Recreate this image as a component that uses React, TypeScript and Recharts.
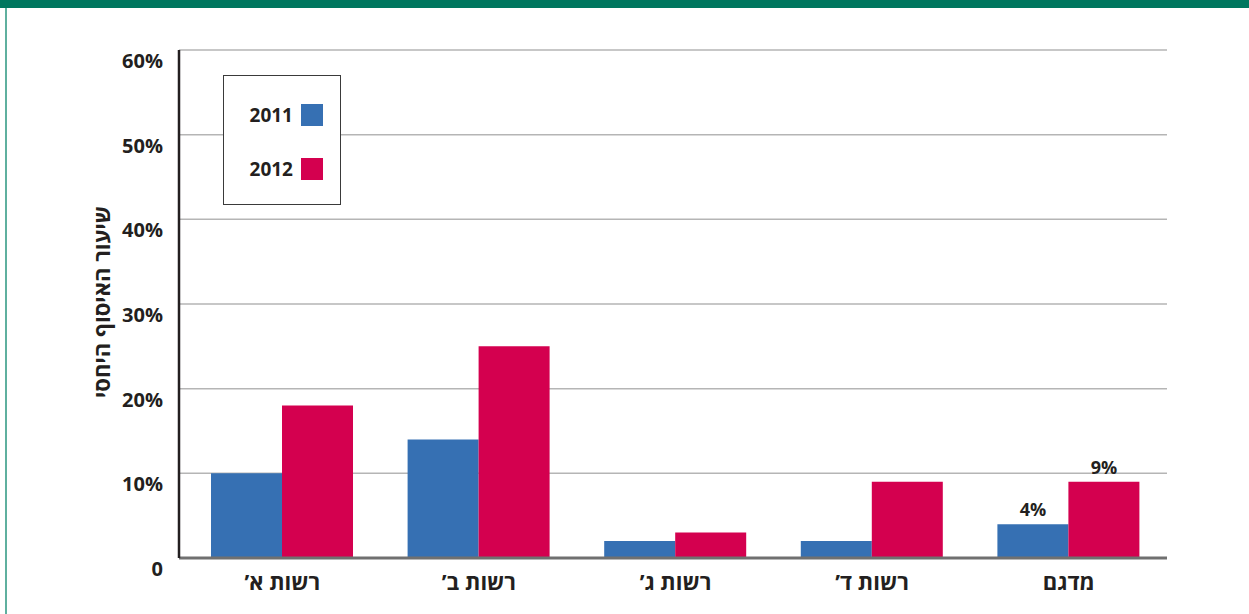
import React from 'react';
import { BarChart, Bar, XAxis, YAxis, CartesianGrid, LabelList } from 'recharts';

const categories = ['רשות א’', 'רשות ב’', 'רשות ג’', 'רשות ד’', 'מדגם'];
const values2011 = [10, 14, 2, 2, 4];
const values2012 = [18, 25, 3, 9, 9];
const yTicks = [0, 10, 20, 30, 40, 50, 60];
const seriesNames = ['2011', '2012'];
// only the sample group carries printed values
const labelledCategory = 'מדגם';

const BLUE = '#3670b3';
const RED = '#d4004f';
const TEXT = '#231f20';
const FONT = '"Open Sans", "Liberation Sans", "DejaVu Sans", sans-serif';

const data = categories.map((name, i) => ({ name, y2011: values2011[i], y2012: values2012[i] }));

const YTick = ({ x, y, payload }: any) => (
  <text x={x - 8} y={y + 18} textAnchor="end" fontSize={20} fontWeight={700} fill={TEXT} fontFamily={FONT}>
    {payload.value === 0 ? '0' : `${payload.value}%`}
  </text>
);

const XTick = ({ x, y, payload }: any) => (
  <text
    x={x}
    y={y + 24}
    textAnchor="middle"
    fontSize={22}
    fontWeight={700}
    fill={TEXT}
    fontFamily={FONT}
    style={{ direction: 'rtl', unicodeBidi: 'embed' }}
  >
    {payload.value}
  </text>
);

const ValueLabel = ({ x, y, width, value, index }: any) => {
  if (categories[index] !== labelledCategory) return null;
  return (
    <text x={x + width / 2} y={y - 8} textAnchor="middle" fontSize={18} fontWeight={700} fill={TEXT} fontFamily={FONT}>
      {`${value}%`}
    </text>
  );
};

const LegendBox = () => (
  <div
    style={{
      position: 'absolute',
      left: 223,
      top: 75,
      width: 118,
      height: 130,
      boxSizing: 'border-box',
      border: '1.5px solid #3a3a3a',
      background: '#fff',
      fontFamily: FONT,
    }}
  >
    {seriesNames.map((label, i) => (
      <div key={label} style={{ position: 'absolute', top: 28 + i * 54, left: 0, width: 116, height: 22 }}>
        <span
          style={{
            position: 'absolute',
            right: 47,
            top: 0,
            lineHeight: '22px',
            fontSize: 19,
            fontWeight: 700,
            color: TEXT,
          }}
        >
          {label}
        </span>
        <span
          style={{ position: 'absolute', left: 77, top: 0, width: 22, height: 22, background: i === 0 ? BLUE : RED }}
        />
      </div>
    ))}
  </div>
);

export default function App() {
  return (
    <div style={{ position: 'absolute', left: 0, top: 0, width: 1249, height: 614, background: '#fff', overflow: 'hidden' }}>
      <div style={{ position: 'absolute', left: 0, top: 0, width: 1249, height: 8, background: '#00775f' }} />
      <div style={{ position: 'absolute', left: 5, top: 8, width: 2, height: 606, background: '#5fb09f' }} />
      <div
        style={{
          position: 'absolute',
          left: 101,
          top: 302,
          transform: 'translate(-50%, -50%) rotate(-90deg)',
          whiteSpace: 'nowrap',
          fontFamily: FONT,
          fontWeight: 700,
          fontSize: 22,
          color: TEXT,
          direction: 'rtl',
        }}
      >
        שיעור האיסוף היחסי
      </div>
      <div style={{ position: 'absolute', left: 0, top: 0 }}>
        <BarChart
          width={1249}
          height={614}
          data={data}
          margin={{ top: 50, right: 82, bottom: 16, left: 100 }}
          barGap={0}
          barSize={71}
        >
          <CartesianGrid vertical={false} stroke="#b5b5b5" strokeWidth={1.5} />
          <XAxis
            dataKey="name"
            height={40}
            axisLine={{ stroke: '#707070', strokeWidth: 3 }}
            tickLine={false}
            tick={<XTick />}
            padding={{ left: 5, right: 0 }}
            interval={0}
          />
          <YAxis
            width={79}
            domain={[0, 60]}
            ticks={yTicks}
            axisLine={{ stroke: TEXT, strokeWidth: 2.5 }}
            tickLine={false}
            tick={<YTick />}
            interval={0}
          />
          <Bar dataKey="y2011" name={seriesNames[0]} fill={BLUE} isAnimationActive={false}>
            <LabelList dataKey="y2011" content={<ValueLabel />} />
          </Bar>
          <Bar dataKey="y2012" name={seriesNames[1]} fill={RED} isAnimationActive={false}>
            <LabelList dataKey="y2012" content={<ValueLabel />} />
          </Bar>
        </BarChart>
      </div>
      <LegendBox />
    </div>
  );
}
